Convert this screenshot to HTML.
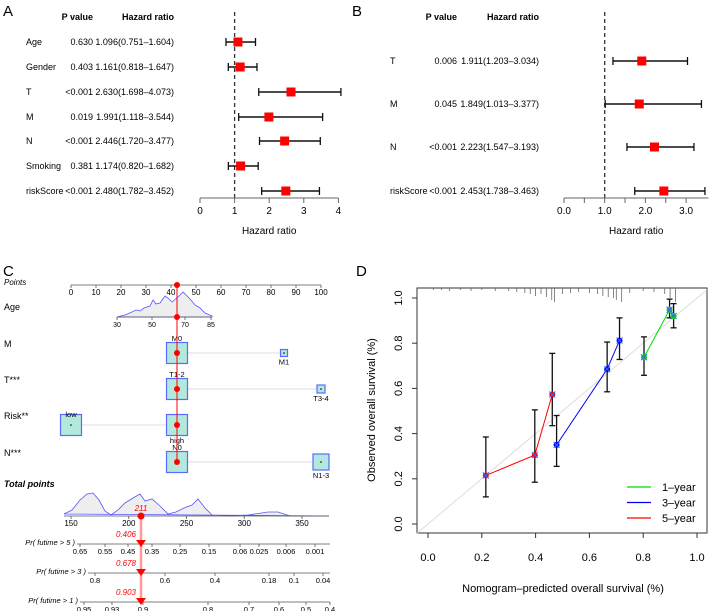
<!DOCTYPE html>
<html><head><meta charset="utf-8"><style>
body{margin:0;background:#fff;width:709px;height:611px;overflow:hidden}
svg{font-family:"Liberation Sans",sans-serif}
</style></head><body>
<svg id="s" width="709" height="611">
<g font-size="15">
<text x="3" y="16">A</text><text x="352" y="16">B</text><text x="3" y="276">C</text><text x="356" y="276">D</text>
</g>
</svg>
<script>
// Panel A data
const aLabels=["Age","Gender","T","M","N","Smoking","riskScore"];
const aP=["0.630","0.403","<0.001","0.019","<0.001","0.381","<0.001"];
const aHR=[1.096,1.161,2.630,1.991,2.446,1.174,2.480];
const aLo=[0.751,0.818,1.698,1.118,1.720,0.820,1.782];
const aHi=[1.604,1.647,4.073,3.544,3.477,1.682,3.452];
const aTicks=[0,1,2,3,4];
// Panel B data
const bLabels=["T","M","N","riskScore"];
const bP=["0.006","0.045","<0.001","<0.001"];
const bHR=[1.911,1.849,2.223,2.453];
const bLo=[1.203,1.013,1.547,1.738];
const bHi=[3.034,3.377,3.193,3.463];
const bTicks=[0,0.5,1,1.5,2,2.5,3];
const bTickLabels=["0.0","","1.0","","2.0","","3.0"];
// Panel D data
const dSeries=["1-year","3-year","5-year"];
const dColors=["#00dd00","#0000ff","#ff0000"];
const dX=[[0.803,0.898,0.913],[0.478,0.666,0.712],[0.215,0.397,0.462]];
const dY=[[0.738,0.948,0.920],[0.350,0.685,0.812],[0.215,0.305,0.573]];
const dLo=[[0.658,0.912,0.868],[0.255,0.585,0.728],[0.120,0.185,0.435]];
const dHi=[[0.828,0.995,0.975],[0.480,0.805,0.912],[0.385,0.505,0.755]];
const dTicks=[0,0.2,0.4,0.6,0.8,1.0];
const rugX=[0.02,0.05,0.08,0.12,0.16,0.2,0.25,0.3,0.33,0.36,0.38,0.4,0.42,0.44,0.46,0.47,0.5,0.53,0.56,0.6,0.63,0.65,0.67,0.69,0.7,0.72,0.75,0.8,0.84,0.88,0.9,0.92];
const rugH=[2,2,3,2,3,2,3,3,4,5,6,8,6,9,12,14,6,5,4,5,6,8,9,10,12,14,5,3,4,6,10,14];

const S=document.getElementById('s');const NS="http://www.w3.org/2000/svg";
function E(t,a,p){const e=document.createElementNS(NS,t);for(const k in a)e.setAttribute(k,a[k]);(p||S).appendChild(e);return e;}
function T(x,y,s,a,p){const e=E('text',Object.assign({x:x,y:y},a||{}),p);e.textContent=s;return e;}

function forest(g,labels,P,HR,Lo,Hi,rowsY,x0,ppu,labX,pX,hX,ticks,tickLabels,axMax){
  const sx=v=>x0+v*ppu;
  T(pX,20,"P value",{'font-size':9,'font-weight':'bold','text-anchor':'end'},g);
  T(hX,20,"Hazard ratio",{'font-size':9,'font-weight':'bold','text-anchor':'end'},g);
  const dl=E('line',{x1:sx(1),x2:sx(1),y1:12,y2:198,stroke:'#333','stroke-width':1.3,'stroke-dasharray':'4,3'},g);
  
  labels.forEach((l,i)=>{
    const y=rowsY[i];
    const r=E('g',{},g);
    
    
    T(labX,y+3,l,{'font-size':9},r);
    T(pX,y+3,P[i],{'font-size':9,'text-anchor':'end'},r);
    T(hX,y+3,HR[i].toFixed(3)+"("+Lo[i].toFixed(3)+"\u2013"+Hi[i].toFixed(3)+")",{'font-size':9,'text-anchor':'end'},r);
    E('line',{x1:sx(Lo[i]),x2:sx(Hi[i]),y1:y,y2:y,stroke:'#111','stroke-width':1.5},r);
    E('line',{x1:sx(Lo[i]),x2:sx(Lo[i]),y1:y-4,y2:y+4,stroke:'#111','stroke-width':1.3},r);
    E('line',{x1:sx(Hi[i]),x2:sx(Hi[i]),y1:y-4,y2:y+4,stroke:'#111','stroke-width':1.3},r);
    E('rect',{x:sx(HR[i])-4.5,y:y-4.5,width:9,height:9,fill:'#ff0000'},r);
  });
  const ax=E('g',{},g);
  
  E('line',{x1:sx(ticks[0]),x2:sx(axMax),y1:198,y2:198,stroke:'#666','stroke-width':1},ax);
  ticks.forEach((t,i)=>{E('line',{x1:sx(t),x2:sx(t),y1:198,y2:203,stroke:'#666'},ax);
    T(sx(t),214,tickLabels[i],{'font-size':10,'text-anchor':'middle'},ax);});
  T(sx(axMax/2+ (ticks[0])),234,"Hazard ratio",{'font-size':10,'text-anchor':'middle'},ax);
}
const gA=E('g',{});
forest(gA,aLabels,aP,aHR,aLo,aHi,[42,67,92,117,141,166,191],200,34.6,26,93,174,aTicks,aTicks.map(String),4);
const gB=E('g',{});
forest(gB,bLabels,bP,bHR,bLo,bHi,[61,104,147,191],564,40.7,390,457,539,bTicks,bTickLabels,3.55);

// Panel C nomogram
const gC=E('g',{});
function hax(y,x1,x2,labs,pos,g,fs){E('line',{x1:x1,x2:x2,y1:y,y2:y,stroke:'#555','stroke-width':0.8},g);
  labs.forEach((l,i)=>{E('line',{x1:pos[i],x2:pos[i],y1:y,y2:y+3,stroke:'#555','stroke-width':0.8},g);
  T(pos[i],y+10,l,{'font-size':fs||8,'text-anchor':'middle'},g);});}
T(4,285,"Points",{'font-size':8,'font-style':'italic'},gC);
const pts=[0,10,20,30,40,50,60,70,80,90,100];
hax(285,71,321,pts.map(String),pts.map(p=>71+p*2.5),gC);
T(4,310,"Age",{'font-size':9},gC);
E('path',{d:"M117,317 L125,315 L132,312 L136,310 L140,311 L144,308 L150,306 L153,300 L156,304 L160,303 L165,296 L168,298 L172,302 L178,297 L183,292 L186,295 L190,299 L195,305 L200,308 L205,313 L212,316 L212,317 Z",fill:'#eee',stroke:'#5555ff','stroke-width':0.8},gC);
hax(317,117,212,["30","50","70","85"],[117,152,185,211],gC,7);
[["M",353],["T***",389],["Risk**",425],["N***",462]].forEach(r=>T(4,r[1]-6,r[0],{'font-size':9},gC));
function box(cx,cy,s,lab,ly,g){E('rect',{x:cx-s/2,y:cy-s/2,width:s,height:s,fill:'#b3e8dc',stroke:'#5a6cff','stroke-width':1.2},g);
  E('circle',{cx:cx,cy:cy,r:0.8,fill:'#000'},g);T(cx,ly,lab,{'font-size':7.5,'text-anchor':'middle'},g);}
[[353,284,"M0","M1",7],[389,321,"T1-2","T3-4",8],[462,321,"N0","N1-3",16]].forEach(r=>{
  E('line',{x1:187,x2:r[1],y1:r[0],y2:r[0],stroke:'#ddd','stroke-width':1},gC);
  box(177,r[0],21,r[2],r[0]-12,gC);box(r[1],r[0],r[4],r[3],r[0]+r[4]/2+8,gC);});
E('line',{x1:81,x2:166,y1:425,y2:425,stroke:'#ddd'},gC);
box(71,425,21,"low",417,gC);box(177,425,21,"high",443,gC);
E('line',{x1:177,x2:177,y1:285,y2:462,stroke:'#ff0000','stroke-width':1},gC);
[285,317,353,389,425,462].forEach(y=>E('circle',{cx:177,cy:y,r:3,fill:'#ff0000'},gC));
T(4,487,"Total points",{'font-size':9,'font-weight':'bold','font-style':'italic'},gC);
E('path',{d:"M64,514 L72,510 L80,500 L87,494 L93,493 L99,500 L105,511 L111,515 L118,510 L125,503 L133,498 L140,494 L145,501 L152,499 L160,506 L168,514 L176,512 L184,508 L192,505 L198,499 L205,508 L212,515 L230,516 L248,515 L268,512 L278,512 L290,516 L329,516 Z",fill:'#eee',stroke:'#5555ff','stroke-width':0.8},gC);
const tp=[150,200,250,300,350];
hax(516,64,329,tp.map(String),tp.map(v=>71+(v-150)*1.155),gC);
T(141,511,"211",{'font-size':8,fill:'#ff0000','font-style':'italic','text-anchor':'middle'},gC);
E('line',{x1:141,x2:141,y1:516,y2:602,stroke:'#ff9999','stroke-width':2.5},gC);
E('circle',{cx:141,cy:516,r:3.5,fill:'#ff0000'},gC);
[[544,77,"Pr( futime > 5 )",["0.65","0.55","0.45","0.35","0.25","0.15","0.06","0.025","0.006","0.001"],[80,105,128,152,180,209,240,259,286,315],"0.406"],
 [573,88,"Pr( futime > 3 )",["0.8","0.6","0.4","0.18","0.1","0.04"],[95,165,215,269,294,323],"0.678"],
 [602,80,"Pr( futime > 1 )",["0.95","0.93","0.9","0.8","0.7","0.6","0.5","0.4"],[84,112,143,208,249,279,306,330],"0.903"]].forEach(r=>{
  T(r[1]-2,r[0]+1,r[2],{'font-size':7.5,'font-style':'italic','text-anchor':'end'},gC);
  hax(r[0],r[1],330,r[3],r[4],gC,7.5);
  E('path',{d:`M136,${r[0]-4} L146,${r[0]-4} L141,${r[0]+3} Z`,fill:'#ff0000'},gC);
  T(126,r[0]-7,r[5],{'font-size':8,fill:'#ff0000','font-style':'italic','text-anchor':'middle'},gC);
});

// Panel D calibration
const gD=E('g',{});
const X=v=>428+v*269, Y=v=>524-v*226;
E('rect',{x:417,y:288,width:290,height:245,fill:'none',stroke:'#333','stroke-width':1},gD);
E('line',{x1:417,y1:Y((417-428)/269),x2:707,y2:Y((707-428)/269),stroke:'#ddd','stroke-width':1},gD);
rugX.forEach((v,i)=>{const l=E('line',{x1:X(v),x2:X(v),y1:288,y2:288+rugH[i],stroke:'#666','stroke-width':0.8},gD);});
dTicks.forEach(t=>{E('line',{x1:X(t),x2:X(t),y1:533,y2:538,stroke:'#333'},gD);
  T(X(t),561,t.toFixed(1),{'font-size':11,'text-anchor':'middle'},gD);
  E('line',{x1:412,x2:417,y1:Y(t),y2:Y(t),stroke:'#333'},gD);
  T(402,Y(t),t.toFixed(1),{'font-size':11,'text-anchor':'middle',transform:`rotate(-90 402 ${Y(t)})`},gD);});
T(563,592,"Nomogram\u2013predicted overall survival (%)",{'font-size':11,'text-anchor':'middle'},gD);
T(375,410,"Observed overall survival (%)",{'font-size':11,'text-anchor':'middle',transform:'rotate(-90 375 410)'},gD);
dSeries.forEach((s,k)=>{
  const g=E('g',{},gD);
  
  
  E('polyline',{points:dX[k].map((x,i)=>X(x)+','+Y(dY[k][i])).join(' '),fill:'none',stroke:dColors[k],'stroke-width':1},g);
  dX[k].forEach((x,i)=>{
    E('line',{x1:X(x),x2:X(x),y1:Y(dLo[k][i]),y2:Y(dHi[k][i]),stroke:'#111','stroke-width':1.3},g);
    E('line',{x1:X(x)-3,x2:X(x)+3,y1:Y(dLo[k][i]),y2:Y(dLo[k][i]),stroke:'#111','stroke-width':1.3},g);
    E('line',{x1:X(x)-3,x2:X(x)+3,y1:Y(dHi[k][i]),y2:Y(dHi[k][i]),stroke:'#111','stroke-width':1.3},g);
    E('circle',{cx:X(x),cy:Y(dY[k][i]),r:3,fill:dColors[k]},g);
    const cx=X(x),cy=Y(dY[k][i]);
    E('path',{d:`M${cx-3},${cy-3}L${cx+3},${cy+3}M${cx-3},${cy+3}L${cx+3},${cy-3}`,stroke:'#3366ff','stroke-width':1},g);
  });
  const ly=487+k*15.5;
  E('line',{x1:627,x2:651,y1:ly,y2:ly,stroke:dColors[k],'stroke-width':1.2},g);
  T(662,ly+4,s.replace('-','\u2013'),{'font-size':11},g);
});
</script>
</body></html>
